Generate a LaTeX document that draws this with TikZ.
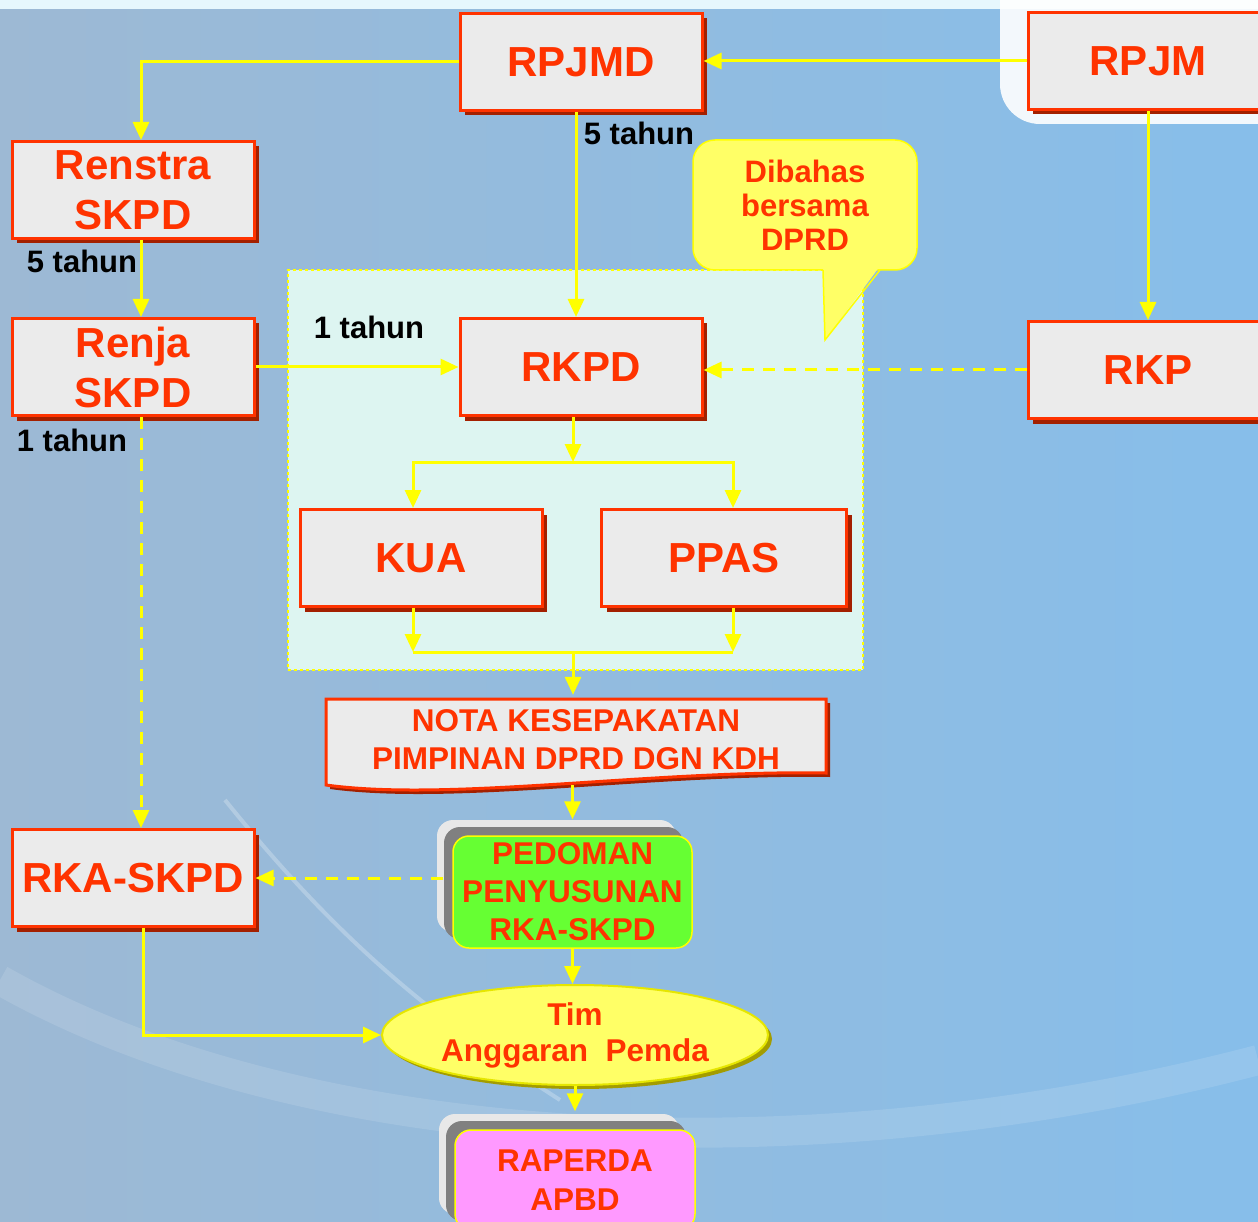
\documentclass[tikz,border=0pt]{standalone}
\usepackage{fontspec}
\setmainfont{Liberation Sans}
\usepackage{tikz}
\usetikzlibrary{positioning}
\usetikzlibrary{arrows.meta}
\usetikzlibrary{shadows}
\usetikzlibrary{shapes.geometric}
\definecolor{boxred}{HTML}{FF3300}
\definecolor{boxshade}{HTML}{A32000}
\definecolor{boxfill}{HTML}{EBEBEB}
\definecolor{linkyellow}{HTML}{FFFF00}
\definecolor{notefill}{HTML}{FFFF66}
\definecolor{noteline}{HTML}{E6E600}
\definecolor{areafill}{HTML}{DDF5F1}
\definecolor{pedfill}{HTML}{66FF33}
\definecolor{rapfill}{HTML}{FF99FF}
\definecolor{ovalshade}{HTML}{A39C00}
\definecolor{bgleft}{HTML}{9DB9D4}
\definecolor{bgright}{HTML}{87BEEA}

\begin{document}
\begin{tikzpicture}[x=1pt,y=-1pt,
  plan/.style={draw=boxred,line width=3pt,fill=boxfill,text=boxred,
    minimum width=242pt,minimum height=97pt,inner sep=0pt,align=center,
    font=\bfseries\fontsize{42}{50}\selectfont,
    general shadow={fill=boxshade,shadow xshift=5pt,shadow yshift=-5pt}},
  stack/.style={draw=linkyellow,line width=1.5pt,rounded corners=16pt,text=boxred,
    minimum width=239pt,inner sep=0pt,align=center,
    font=\bfseries\fontsize{31.5}{38}\selectfont,
    general shadow={fill=gray!18,shadow xshift=-16pt,shadow yshift=16pt},
    general shadow={fill=gray,shadow xshift=-9pt,shadow yshift=9pt}},
  tahun/.style={font=\bfseries\fontsize{31}{36}\selectfont,inner sep=0pt},
  red text/.style={text=boxred,align=center,inner sep=0pt,
    font=\bfseries\fontsize{31.5}{38}\selectfont},
  link/.style={draw=linkyellow,line width=3pt,-{Triangle[length=18pt,width=16pt]}},
  dlink/.style={link,dash pattern=on 12pt off 9pt},
  plain/.style={draw=linkyellow,line width=3pt}]

  \useasboundingbox (0,0) rectangle (1258,1222);
  \shade[left color=bgleft,right color=bgright] (0,0) rectangle (1258,1222);
  \fill[white!90!cyan] (0,0) rectangle (1258,9);
  \fill[white,opacity=.9,rounded corners=40pt] (1000,-60) rectangle (1300,124);
  \draw[white,opacity=.25,line width=4pt] (225,800) .. controls (330,930) and (420,1010) .. (560,1100);
  \draw[white,opacity=.12,line width=30pt] (0,980) .. controls (300,1150) and (800,1180) .. (1258,1060);

  % dashed area and callout
  \node[draw=linkyellow,dashed,line width=2pt,fill=areafill,minimum width=575pt,
    minimum height=400pt] (area) at (575.5,470) {};
  \node[fill=notefill,draw=linkyellow,line width=1.5pt,rounded corners=22pt,
    minimum width=224pt,minimum height=130pt,text=boxred,align=center,inner sep=0pt,
    font=\bfseries\fontsize{31}{34}\selectfont] (dibahas) at (805,205) {Dibahas\\bersama\\DPRD};
  \fill[notefill] (823,266) -- (825,340) -- (880,266) -- cycle;
  \draw[linkyellow,line width=1.5pt] (823,270) -- (825,340) -- (880,270);

  % boxes
  \node[plan] (rpjmd) at (581,62) {RPJMD};
  \node[plan,minimum width=240pt] (rpjm) at (1148,61) {RPJM};
  \node[plan] (renstra) at (133,190) {Renstra\\SKPD};
  \node[plan] (renja) at (133,367) {Renja\\SKPD};
  \node[plan] (rkpd) at (581,367) {RKPD};
  \node[plan,minimum width=240pt] (rkp) at (1148,370) {RKP};
  \node[plan] (kua) at (421,558) {KUA};
  \node[plan,minimum width=245pt] (ppas) at (724,558) {PPAS};
  \node[plan] (rkaskpd) at (133,878) {RKA-SKPD};

  % nota kesepakatan
  \fill[boxshade,shift={(4,4)}] (326,699) -- (826,699) -- (826,773)
    .. controls (650,770) and (450,802) .. (326,785) -- cycle;
  \filldraw[fill=boxfill,draw=boxred,line width=3pt] (326,699) -- (826,699) -- (826,773)
    .. controls (650,770) and (450,802) .. (326,785) -- cycle;
  \node[red text,minimum width=500pt,minimum height=90pt] (nota) at (576,740)
    {NOTA KESEPAKATAN\\PIMPINAN DPRD DGN KDH};

  \node[stack,fill=pedfill,minimum height=112pt] (pedoman) at (572.5,892)
    {PEDOMAN\\PENYUSUNAN\\RKA-SKPD};
  \node[ellipse,fill=notefill,draw=noteline,line width=2pt,minimum width=386pt,
    minimum height=100pt,inner sep=0pt,text=boxred,align=center,
    font=\bfseries\fontsize{31.5}{36}\selectfont,
    general shadow={fill=ovalshade,shadow xshift=4pt,shadow yshift=-4pt}] (tim) at (575,1035)
    {Tim\\Anggaran\ \ Pemda};
  \node[stack,fill=rapfill,minimum height=100pt,minimum width=240pt,
    font=\bfseries\fontsize{31.5}{39}\selectfont] (raperda) at (575,1180) {RAPERDA\\APBD};

  % labels
  \node[tahun] (t5a) at (639,133) {5 tahun};
  \node[tahun] (t5b) at (82,261) {5 tahun};
  \node[tahun] (t1a) at (369,327) {1 tahun};
  \node[tahun] (t1b) at (72,440) {1 tahun};

  % connectors
  \draw[link] (rpjm.west) -- (rpjmd.east |- rpjm.west);
  \draw[link] (rpjmd.west) -| ([xshift=8pt]renstra.north);
  \draw[link] ([xshift=-5pt]rpjmd.south) -- ([xshift=-5pt]rkpd.north);
  \draw[link] (rpjm) -- (rkp);
  \draw[dlink] (rkp.west) -- (rkpd.east |- rkp.west);
  \draw[link] ([xshift=8pt]renstra.south) -- ([xshift=8pt]renja.north);
  \draw[link] (renja) -- (rkpd);
  \draw[dlink] ([xshift=8pt]renja.south) -- ([xshift=8pt]rkaskpd.north);
  \coordinate (split) at (573,462);
  \coordinate (join) at (573,652);
  \draw[link] ([xshift=-8pt]rkpd.south) -- (split);
  \draw[link] (split) -| ([xshift=-8pt]kua.north);
  \draw[link] (split) -| ([xshift=9pt]ppas.north);
  \draw[link] ([xshift=-8pt]kua.south) -- ([xshift=-8pt]kua.south |- join);
  \draw[link] ([xshift=9pt]ppas.south) -- ([xshift=9pt]ppas.south |- join);
  \draw[plain] ([xshift=-8pt]kua.south |- join) -- ([xshift=9pt]ppas.south |- join);
  \draw[link] (join) -- (join |- nota.north);
  \draw[link] (nota.south -| pedoman.north) -- ([yshift=16pt]pedoman.north);
  \draw[dlink] ([xshift=-9pt]pedoman.west |- rkaskpd.east) -- (rkaskpd.east);
  \draw[link] (pedoman.south) -- (pedoman.south |- tim.north);
  \draw[link] ([xshift=10pt]rkaskpd.south) |- (tim.west);
  \draw[link] (tim.south) -- ([yshift=18pt]raperda.north);
\end{tikzpicture}
\end{document}
